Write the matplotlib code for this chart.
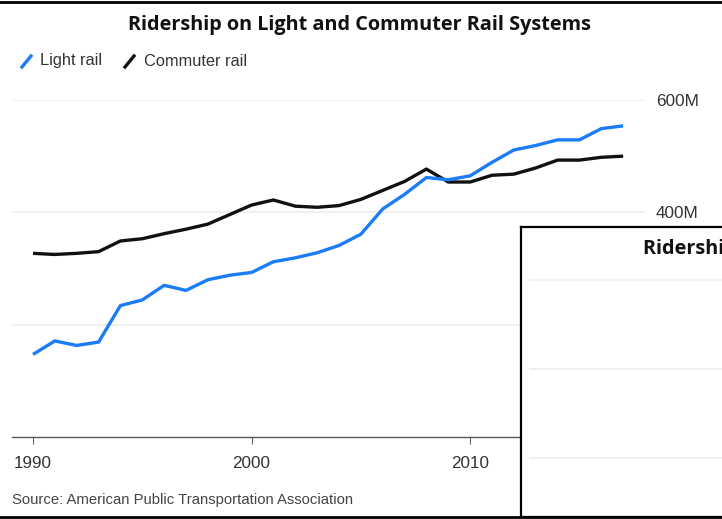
import matplotlib.pyplot as plt
from matplotlib.lines import Line2D

years = list(range(1990, 2018))
light_rail = [147, 171, 163, 169, 234, 244, 270, 261, 280, 288,
              293, 312, 319, 328, 341, 361, 406, 432, 462, 458,
              465, 489, 511, 519, 529, 529, 549, 554]
commuter_rail = [327, 325, 327, 330, 349, 353, 362, 370, 379, 396,
                 413, 422, 411, 409, 412, 423, 439, 455, 477, 454,
                 454, 466, 468, 479, 493, 493, 498, 500]
y_ticks = [200, 400, 600]
y_labels = ['200M', '400M', '600M']
x_ticks = [1990, 2000, 2010]

W, H = 722, 519
fig = plt.figure(figsize=(W / 100, H / 100), dpi=100)
fig.patch.set_facecolor('white')

def fx(px):
    return px / W

def fy(py):
    return 1 - py / H

# main chart
ax = fig.add_axes([fx(12), fy(437), fx(645) - fx(12), fy(100) - fy(437)])
ax.plot(years, commuter_rail, color='#111111', lw=2.4, solid_capstyle='butt', zorder=3)
ax.plot(years, light_rail, color='#1b7cf7', lw=2.4, solid_capstyle='butt', zorder=4)
ax.set_xlim(1989.04, 2018)
ax.set_ylim(0, 600)
ax.set_yticks(y_ticks)
ax.set_yticklabels(y_labels)
ax.yaxis.tick_right()
ax.tick_params(axis='y', length=0, pad=8, labelsize=12.3, labelcolor='#333333')
ax.set_xticks(x_ticks)
ax.tick_params(axis='x', length=5, width=0.8, color='#666666', pad=9,
               labelsize=12.3, labelcolor='#333333')
ax.grid(axis='y', color='#eeeeee', lw=1.2)
ax.set_axisbelow(True)
for s in ['top', 'right', 'left']:
    ax.spines[s].set_visible(False)
ax.spines['bottom'].set_color('#555555')
ax.spines['bottom'].set_linewidth(1)
for lbl in ax.get_xticklabels() + ax.get_yticklabels():
    lbl.set_family('Liberation Sans')

# title
fig.text(fx(360), fy(25), 'Ridership on Light and Commuter Rail Systems',
         ha='center', va='center', fontsize=14.3, fontweight='bold',
         family='Open Sans', color='#111111')

# legend
fig.lines.append(Line2D([fx(22), fx(31)], [fy(67), fy(56)], color='#1b7cf7', lw=2.4,
                        transform=fig.transFigure))
fig.text(fx(40), fy(61), 'Light rail', ha='left', va='center', fontsize=11.8,
         family='Liberation Sans', color='#333333')
fig.lines.append(Line2D([fx(125), fx(134)], [fy(67), fy(56)], color='#111111', lw=2.4,
                        transform=fig.transFigure))
fig.text(fx(144), fy(61), 'Commuter rail', ha='left', va='center', fontsize=11.8,
         family='Liberation Sans', color='#333333')

# source
fig.text(fx(12), fy(500), 'Source: American Public Transportation Association',
         ha='left', va='center', fontsize=10.7, family='Liberation Sans', color='#444444')

# frame lines
fig.lines.append(Line2D([0, 1], [fy(2), fy(2)], color='black', lw=2, transform=fig.transFigure))
fig.lines.append(Line2D([0, 1], [fy(517), fy(517)], color='black', lw=2, transform=fig.transFigure))

# overlapping copy of the chart (screenshot artefact)
ax2 = fig.add_axes([fx(521), fy(517), 1 - fx(521), fy(227) - fy(517)])
ax2.set_facecolor('white')
ax2.set_xlim(0, 1)
ax2.set_ylim(69, 718)
for v in y_ticks:
    ax2.axhline(v, xmin=9 / 201, xmax=1, color='#eeeeee', lw=1.2)
ax2.set_xticks([])
ax2.set_yticks([])
for s in ['top', 'left', 'bottom']:
    ax2.spines[s].set_color('black')
    ax2.spines[s].set_linewidth(1.6)
ax2.spines['right'].set_visible(False)
ax2.text((643 - 521) / 201, 1 - 22 / 290, 'Ridership on Light and Commuter Rail Systems',
         transform=ax2.transAxes, ha='left', va='center', fontsize=14.3,
         fontweight='bold', family='Open Sans', color='#111111', clip_on=True)

fig.savefig('out.png', dpi=100)
